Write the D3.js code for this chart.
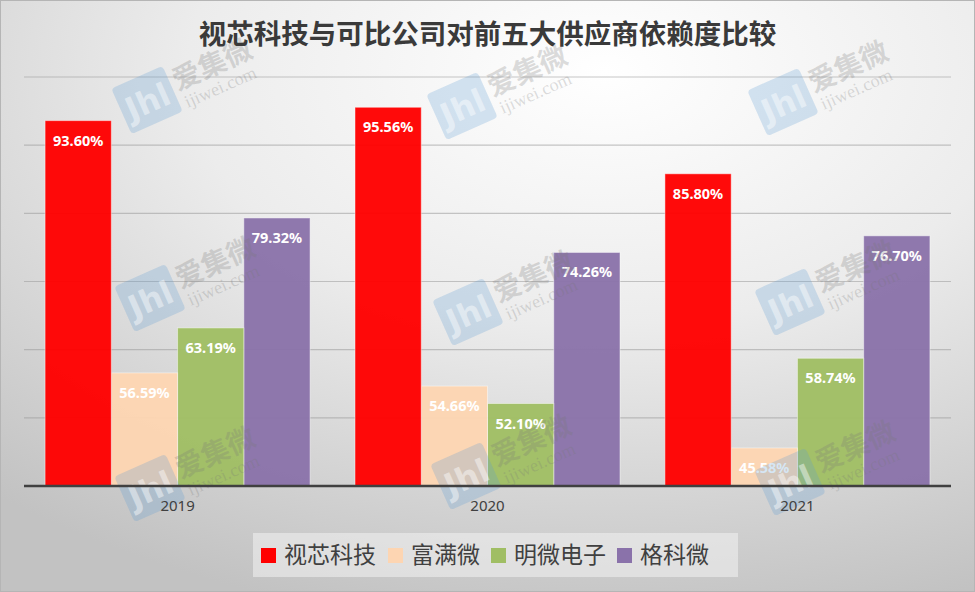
<!DOCTYPE html>
<html>
<head>
<meta charset="utf-8">
<script src="https://cdn.jsdelivr.net/npm/d3@7"></script>
<style>
html, body { margin: 0; padding: 0; background: #fff; }
svg { display: block; }
</style>
</head>
<body>
<div id="chart"></div>
<script>
const width = 975
const height = 592

// data
const years = ["2019", "2020", "2021"]
const companies = ["视芯科技", "富满微", "明微电子", "格科微"]
const shixin = [93.60, 95.56, 85.80]
const fuman = [56.59, 54.66, 45.58]
const mingwei = [63.19, 52.10, 58.74]
const gekewei = [79.32, 74.26, 76.70]
const yTicks = [40, 50, 60, 70, 80, 90, 100]
const colors = ["#ff0000", "#fdd5b2", "#a0be64", "#8a72aa"]

const seriesValues = [shixin, fuman, mingwei, gekewei]
const rows = []
years.forEach((y, i) => {
  companies.forEach((c, j) => {
    rows.push({ year: y, company: c, value: seriesValues[j][i] })
  })
})

const margin = { left: 24, right: 24, top: 77, bottom: 106 }

const svg = d3.select("#chart")
  .append("svg")
  .attr("width", width)
  .attr("height", height)

// background gradient like the office chart
const defs = svg.append("defs")
const grad = defs.append("radialGradient")
  .attr("id", "bg")
  .attr("cx", "62%").attr("cy", "12%").attr("r", "95%")
  .attr("gradientUnits", "objectBoundingBox")
grad.append("stop").attr("offset", "0%").attr("stop-color", "#ffffff")
grad.append("stop").attr("offset", "45%").attr("stop-color", "#ececec")
grad.append("stop").attr("offset", "100%").attr("stop-color", "#c2c2c2")

svg.append("rect")
  .attr("width", width)
  .attr("height", height)
  .attr("fill", "url(#bg)")
  .attr("stroke", "#b5b5b5")
  .attr("stroke-width", 2)

const x0 = d3.scaleBand()
  .domain(years)
  .range([margin.left, width - margin.right])
  .paddingInner(0.145)
  .paddingOuter(0.068)

const x1 = d3.scaleBand()
  .domain(companies)
  .range([0, x0.bandwidth()])

const y = d3.scaleLinear()
  .domain([40, 100])
  .range([height - margin.bottom, margin.top])

const color = d3.scaleOrdinal().domain(companies).range(colors)

// gridlines
svg.append("g")
  .selectAll("line")
  .data(yTicks.slice(1))
  .join("line")
  .attr("x1", margin.left)
  .attr("x2", width - margin.right)
  .attr("y1", d => y(d))
  .attr("y2", d => y(d))
  .attr("stroke", "#9a9a9a")
  .attr("stroke-opacity", 0.55)
  .attr("stroke-width", 1.2)

// bars
const groups = svg.append("g")
  .selectAll("g")
  .data(years)
  .join("g")
  .attr("transform", d => `translate(${x0(d)},0)`)

groups.selectAll("rect")
  .data(yr => rows.filter(r => r.year === yr))
  .join("rect")
  .attr("x", d => x1(d.company))
  .attr("y", d => y(d.value))
  .attr("width", x1.bandwidth())
  .attr("height", d => y(40) - y(d.value))
  .attr("fill", d => color(d.company))
  .attr("fill-opacity", 0.96)
  .attr("stroke", "#ffffff")
  .attr("stroke-opacity", 0.45)
  .attr("stroke-width", 1)

// watermarks (sit over the bars, as in the picture)
const marks = [
  [147, 100], [462, 106], [783, 102],
  [150, 298], [468, 312], [790, 302],
  [150, 488], [466, 476], [790, 482]
]
const wm = svg.append("g").attr("pointer-events", "none")
marks.forEach(([mx, my]) => {
  const g = wm.append("g").attr("transform", `translate(${mx},${my}) rotate(-24)`)
  g.append("rect")
    .attr("x", -28).attr("y", -25).attr("width", 56).attr("height", 50)
    .attr("rx", 4)
    .attr("fill", "#5b9bd5").attr("fill-opacity", 0.25)
  g.append("text")
    .attr("x", 0).attr("y", 13)
    .attr("text-anchor", "middle")
    .attr("font-family", "DejaVu Sans")
    .attr("font-weight", "bold")
    .attr("font-size", 32)
    .attr("fill", "#fff").attr("fill-opacity", 0.45)
    .text("Jhl")
  g.append("text")
    .attr("x", 32).attr("y", 4)
    .attr("font-family", "Noto Sans CJK SC")
    .attr("font-weight", "bold")
    .attr("font-size", 28)
    .attr("fill", "#777").attr("fill-opacity", 0.25)
    .text("爱集微")
  g.append("text")
    .attr("x", 34).attr("y", 24)
    .attr("font-family", "Liberation Serif")
    .attr("font-size", 18)
    .attr("fill", "#777").attr("fill-opacity", 0.25)
    .text("ijiwei.com")
})

groups.selectAll("text")
  .data(yr => rows.filter(r => r.year === yr))
  .join("text")
  .attr("x", d => x1(d.company) + x1.bandwidth() / 2)
  .attr("y", d => y(d.value) + 25)
  .attr("text-anchor", "middle")
  .attr("font-family", "Noto Sans, sans-serif")
  .attr("font-weight", "bold")
  .attr("font-size", 14.5)
  .attr("fill", "#ffffff")
  .text(d => d.value.toFixed(2) + "%")
groups.raise()
groups.selectAll("rect").lower()

// x axis
const xAxis = svg.append("g")
  .attr("transform", `translate(0,${y(40)})`)
  .call(d3.axisBottom(x0).tickSize(0).tickPadding(14))
xAxis.select(".domain")
  .attr("d", `M${margin.left},0H${width - margin.right}`)
  .attr("stroke", "#404040")
  .attr("stroke-width", 2.5)
xAxis.selectAll("text")
  .attr("font-family", "Noto Sans, sans-serif")
  .attr("font-size", 15)
  .attr("fill", "#404040")

// title
svg.append("text")
  .attr("x", width / 2)
  .attr("y", 44)
  .attr("text-anchor", "middle")
  .attr("font-family", "Noto Sans CJK SC")
  .attr("font-weight", "bold")
  .attr("font-size", 27.5)
  .attr("fill", "#3a3a3a")
  .text("视芯科技与可比公司对前五大供应商依赖度比较")

// legend
const legend = svg.append("g")
legend.append("rect")
  .attr("x", 253).attr("y", 533)
  .attr("width", 485).attr("height", 44)
  .attr("fill", "#f2f2f2").attr("fill-opacity", 0.55)

const legendX = [261, 388, 491, 617]
const items = legend.selectAll("g")
  .data(companies)
  .join("g")
  .attr("transform", (d, i) => `translate(${legendX[i]},548)`)

items.append("rect")
  .attr("width", 15).attr("height", 15)
  .attr("fill", d => color(d))

items.append("text")
  .attr("x", 23)
  .attr("y", 15)
  .attr("font-family", "Noto Sans CJK SC")
  .attr("font-size", 23)
  .attr("fill", "#404040")
  .text(d => d)
</script>
</body>
</html>
